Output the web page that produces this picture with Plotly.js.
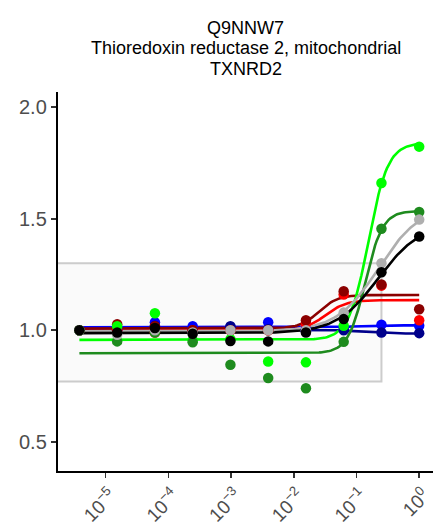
<!DOCTYPE html>
<html>
<head>
<meta charset="utf-8">
<script src="https://cdn.plot.ly/plotly-3.0.1.min.js"></script>
<style>html,body{margin:0;padding:0;background:#fff;}#chart{width:434px;height:526px;}</style>
</head>
<body>
<div id="chart"></div>
<script>
// Title lines
const titleLines = ["Q9NNW7", "Thioredoxin reductase 2, mitochondrial", "TXNRD2"];

// Concentrations (4-fold dilution series)
const conc = [3.815e-6, 1.526e-5, 6.104e-5, 2.441e-4, 9.766e-4, 3.906e-3, 0.015625, 0.0625, 0.25, 1];

const seriesNames = ["blue", "darkblue", "red", "darkred", "green", "darkgreen", "grey", "black"];
const seriesColors = ["#0000FF", "#00008B", "#FF0000", "#8B0000", "#00FF00", "#1E8B1E", "#AFAFAF", "#000000"];

// Observed values per series
const vBlue      = [1.0, 1.010, 1.036, 1.018, 1.015, 1.036, 1.005, 1.005, 1.025, 1.020];
const vDarkblue  = [1.0, 1.000, 1.020, 1.000, 1.018, 1.005, 0.995, 1.000, 0.990, 0.987];
const vRed       = [1.0, 1.000, 0.990, 1.000, 1.000, 1.000, 1.030, 1.160, 1.200, 1.045];
const vDarkred   = [1.0, 1.027, 1.018, 1.000, 1.000, 1.000, 1.045, 1.175, 1.205, 1.094];
const vGreen     = [1.0, 1.018, 1.076, 0.955, 0.960, 0.860, 0.856, 1.020, 1.660, 1.823];
const vDarkgreen = [1.0, 0.950, 0.990, 0.946, 0.845, 0.786, 0.740, 0.948, 1.455, 1.530];
const vGrey      = [1.0, 0.980, 1.000, 0.990, 1.000, 1.000, 1.000, 1.079, 1.300, 1.496];
const vBlack     = [1.0, 0.990, 1.010, 0.984, 0.952, 0.950, 0.990, 1.050, 1.260, 1.420];

// Fitted log-logistic curve parameters: bottom, top, log10 EC50, hill slope
const fitBottom = [1.013, 1.003, 0.998, 1.008, 0.957, 0.897, 0.995, 0.987];
const fitTop    = [1.022, 0.985, 1.135, 1.158, 1.840, 1.535, 1.560, 1.480];
const fitLogEC  = [-1.0, -1.0, -1.5, -1.6, -0.81, -0.86, -0.65, -0.65];
const fitHill   = [2.0, 2.0, 2.6, 2.9, 2.8, 3.16, 1.3, 1.3];

// Threshold box
const boxXmax = 0.25, boxYmin = 0.77, boxYmax = 1.3;

const values = [vBlue, vDarkblue, vRed, vDarkred, vGreen, vDarkgreen, vGrey, vBlack];

const traces = [];
const lx0 = Math.log10(conc[0]), lx1 = Math.log10(conc[conc.length - 1]);
const nCurve = 200;
for (let s = 0; s < values.length; s++) {
  const cx = [], cy = [];
  for (let i = 0; i <= nCurve; i++) {
    const lx = lx0 + (lx1 - lx0) * i / nCurve;
    cx.push(Math.pow(10, lx));
    cy.push(fitBottom[s] + (fitTop[s] - fitBottom[s]) / (1 + Math.pow(10, (fitLogEC[s] - lx) * fitHill[s])));
  }
  traces.push({x: cx, y: cy, mode: "lines", type: "scatter", line: {color: seriesColors[s], width: 2.6}, hoverinfo: "skip", showlegend: false, cliponaxis: true});
}
for (let s = 0; s < values.length; s++) {
  traces.push({x: conc, y: values[s], mode: "markers", type: "scatter", name: seriesNames[s], marker: {color: seriesColors[s], size: 10.5}, showlegend: false, cliponaxis: false});
}

const tickVals = [1e-5, 1e-4, 1e-3, 1e-2, 1e-1, 1];
const tickText = ["10<sup>−5</sup>", "10<sup>−4</sup>", "10<sup>−3</sup>", "10<sup>−2</sup>", "10<sup>−1</sup>", "10<sup>0</sup>"];

const titleY = [1.1689, 1.1150, 1.0611];
const annotations = titleLines.map((t, i) => ({
  text: t, xref: "paper", yref: "paper", x: 0.5, y: titleY[i], xanchor: "center", yanchor: "middle",
  showarrow: false, font: {size: 18, color: "#000", family: "Liberation Sans, Arial, sans-serif"}
}));

const layout = {
  width: 434, height: 526,
  margin: {l: 58, r: 1, t: 92, b: 55},
  paper_bgcolor: "#fff", plot_bgcolor: "#fff",
  font: {family: "Liberation Sans, Arial, sans-serif", color: "#4D4D4D"},
  annotations: annotations,
  xaxis: {type: "log", range: [-5.76, 0.22], showgrid: false, zeroline: false,
    showline: true, linecolor: "#000", linewidth: 2.2,
    ticks: "outside", ticklen: 5, tickwidth: 1.6, tickcolor: "#333",
    ticklabelshift: 5, ticklabelstandoff: -1, ticklabeloverflow: "allow",
    tickvals: tickVals, ticktext: tickText, tickangle: -45, tickfont: {size: 19, color: "#4D4D4D"}},
  yaxis: {range: [0.369, 2.068], showgrid: false, zeroline: false,
    showline: true, linecolor: "#000", linewidth: 2.2,
    ticks: "outside", ticklen: 5, tickwidth: 1.6, tickcolor: "#333",
    tickvals: [0.5, 1.0, 1.5, 2.0], ticktext: ["0.5", "1.0", "1.5", "2.0"], tickfont: {size: 20, color: "#4D4D4D"}},
  shapes: [{type: "rect", xref: "x", yref: "y", x0: 1e-7, x1: boxXmax, y0: boxYmin, y1: boxYmax,
    fillcolor: "#FAFAFA", line: {color: "#CCCCCC", width: 2}, layer: "below"}]
};

Plotly.newPlot("chart", traces, layout, {displayModeBar: false, staticPlot: true});
</script>
</body>
</html>
